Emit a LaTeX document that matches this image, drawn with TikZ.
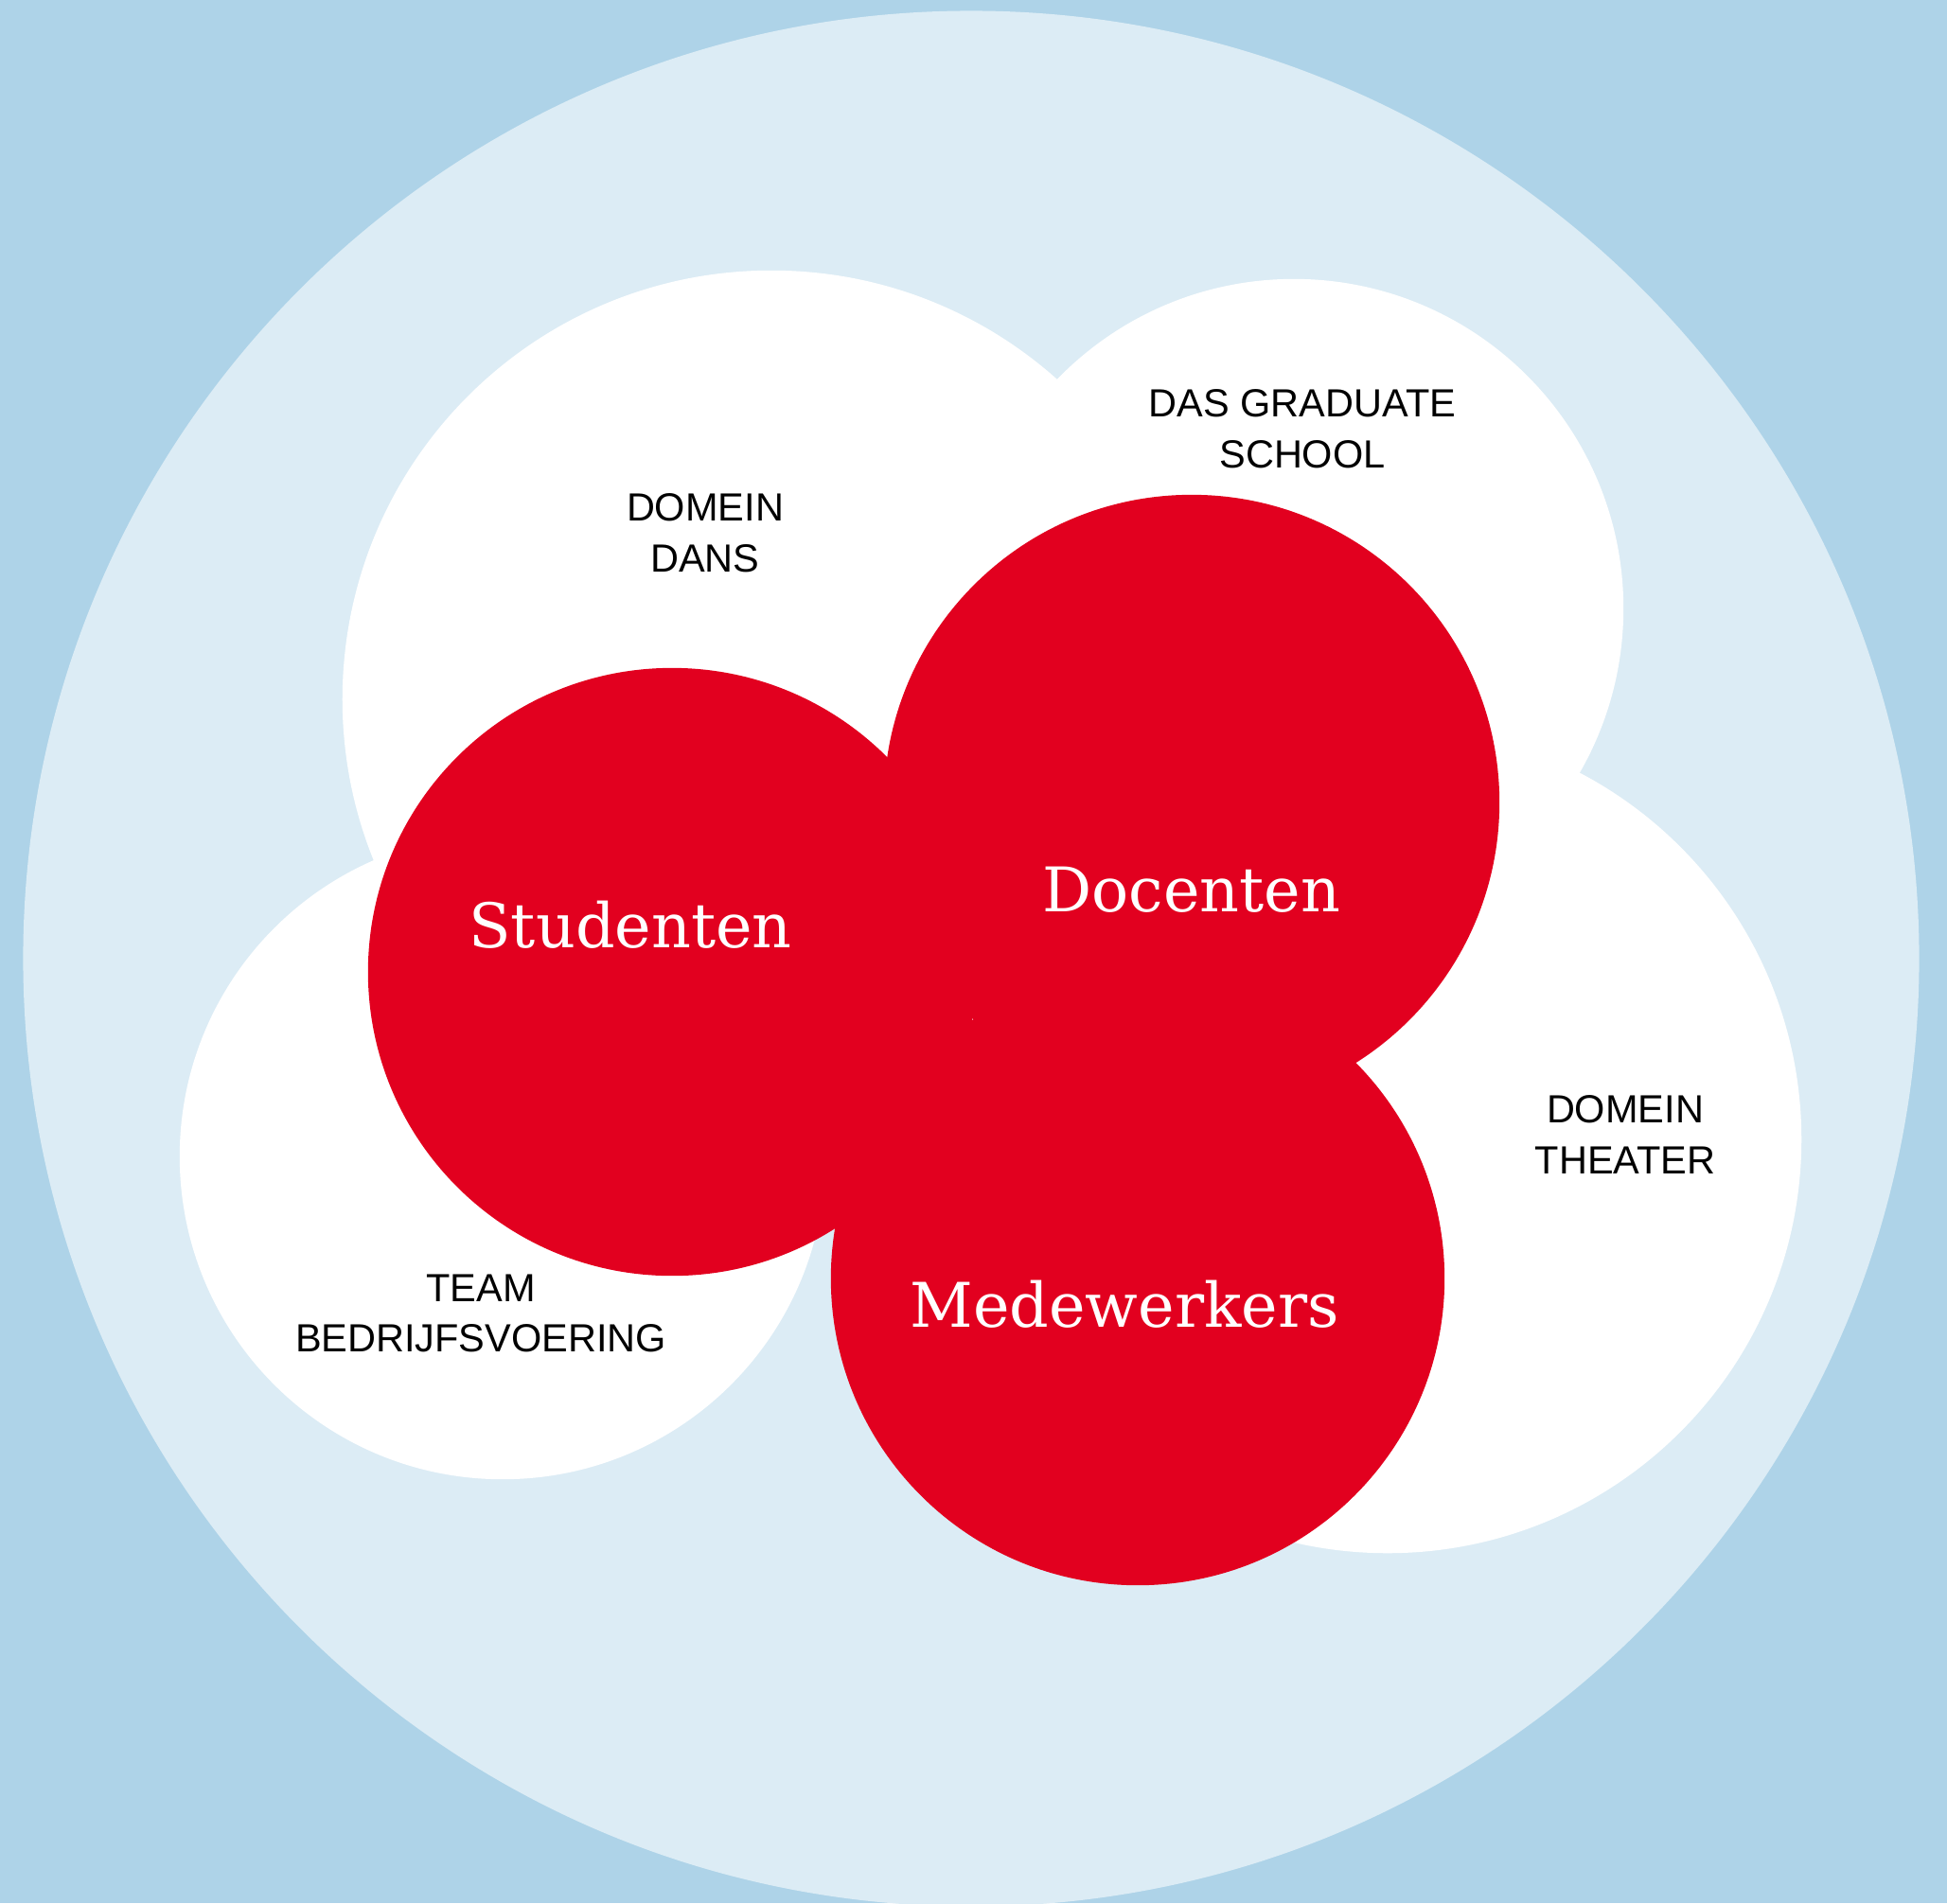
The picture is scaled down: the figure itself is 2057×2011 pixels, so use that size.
\documentclass[tikz,border=0pt]{standalone}
\usepackage{fontspec}
\setmainfont{Liberation Sans}
\newfontfamily\slabfont{DejaVu Serif}
\definecolor{bgblue}{HTML}{AED3E8}
\definecolor{lightblue}{HTML}{DCECF5}
\definecolor{hred}{HTML}{E2001F}
\tikzset{
  unitlabel/.style={font=\fontsize{11.8}{15.3}\selectfont, text=black, align=center, inner sep=0pt},
  grouplabel/.style={font=\slabfont\fontsize{18.5}{22}\selectfont, text=white, anchor=base, inner sep=0pt},
  whitecircle/.style={fill=white},
  redcircle/.style={fill=hred}
}
\begin{document}
\begin{tikzpicture}[x=0.01cm,y=-0.01cm]
\fill[bgblue] (0,0) rectangle (2057,2011);
\useasboundingbox (0,0) rectangle (2057,2011);
\fill[lightblue] (1026,1013) circle[radius=10.01cm];
% white domain circles
\fill[whitecircle] (815,739) circle[radius=4.53cm];
\fill[whitecircle] (1367,643) circle[radius=3.48cm];
\fill[whitecircle] (1466,1204) circle[radius=4.37cm];
\fill[whitecircle] (531,1222) circle[radius=3.41cm];
% red circles
\fill[redcircle] (710,1027) circle[radius=3.21cm];
\fill[redcircle] (1259,848) circle[radius=3.25cm];
\fill[redcircle] (1202,1351) circle[radius=3.24cm];
% labels
\node[unitlabel] (dans) at (745,563) {DOMEIN\\DANS};
\node[unitlabel] (das) at (1376,453) {DAS GRADUATE\\SCHOOL};
\node[unitlabel] (theater) at (1717,1199) {DOMEIN\\THEATER};
\node[unitlabel] (team) at (508,1388) {TEAM\\BEDRIJFSVOERING};
\node[grouplabel] (stud) at (666,1001) {Studenten};
\node[grouplabel] (doc) at (1259,963) {Docenten};
\node[grouplabel] (mede) at (1188,1402) {Medewerkers};
\end{tikzpicture}
\end{document}
